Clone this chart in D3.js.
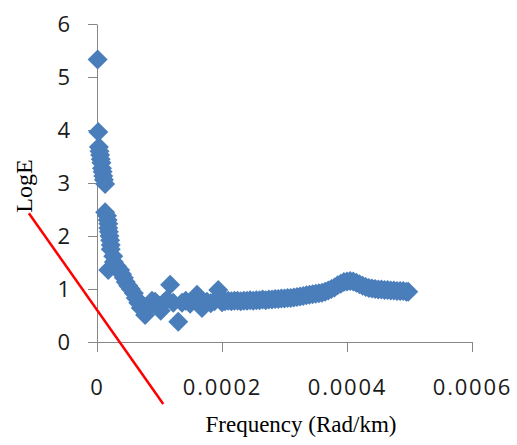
<!DOCTYPE html>
<html>
<head>
<meta charset="utf-8">
<script src="https://cdn.jsdelivr.net/npm/d3@7"></script>
<style>
    body { margin: 0; background: #fff; }
    #chart { width: 517px; height: 445px; }
</style>
</head>
<body>
<div id="chart"></div>
<script>
// Frequency in units of 1e-6 Rad/km
const freq = [
    1, 2, 3, 4, 5, 6, 7, 8, 9, 10, 11, 13,
    13, 16, 17, 18, 18, 19, 20, 21, 22, 22,
    26, 18, 27, 32, 37, 40, 43, 46, 50, 54, 59, 62, 66, 70,
    77, 83, 88, 93, 98, 102, 107, 112, 117, 122, 130, 136, 142, 149, 160, 165, 168, 170, 176, 182, 188, 194, 200,
    205, 210, 215, 220, 225, 230, 235, 240, 245, 250, 255, 260, 265, 270, 275, 280, 285, 290, 295, 300,
    305, 310, 315, 320, 325, 330, 335, 340, 345, 350, 355, 360, 365, 370, 375, 380, 385, 390, 395, 400,
    405, 410, 415, 420, 425, 430, 435, 440, 445, 450, 455, 460, 465, 470, 475, 480, 485, 490, 495, 498
];
const logE = [
    5.33, 3.96, 3.68, 3.60, 3.53, 3.45, 3.38, 3.28, 3.21, 3.13, 3.06, 2.98,
    2.45, 2.38, 2.30, 2.23, 2.15, 2.08, 2.00, 1.92, 1.83, 1.75,
    1.62, 1.36, 1.51, 1.43, 1.36, 1.28, 1.21, 1.13, 1.06, 1.00, 0.92, 0.83, 0.74, 0.64,
    0.51, 0.66, 0.78, 0.76, 0.70, 0.59, 0.74, 0.80, 1.08, 0.74, 0.38, 0.74, 0.78, 0.72, 0.89, 0.72, 0.64, 0.74, 0.76, 0.73, 0.77, 0.98, 0.75,
    0.77, 0.78, 0.77, 0.78, 0.78, 0.77, 0.78, 0.78, 0.79, 0.78, 0.79, 0.79, 0.80, 0.79, 0.80, 0.80, 0.81, 0.81, 0.82, 0.82,
    0.83, 0.83, 0.84, 0.85, 0.86, 0.87, 0.88, 0.89, 0.90, 0.91, 0.92, 0.93, 0.95, 0.97, 1.00, 1.03, 1.07, 1.10, 1.13, 1.14,
    1.15, 1.14, 1.12, 1.09, 1.06, 1.04, 1.02, 1.01, 1.00, 0.99, 0.99, 0.98, 0.98, 0.97, 0.97, 0.96, 0.96, 0.96, 0.95, 0.95
];

// red annotation line (same units: freq x1e-6, logE)
const redLineFreq = [-109, 106];
const redLineLogE = [2.43, -1.17];

const xTicks = [0, 0.0002, 0.0004, 0.0006];
const yTicks = [0, 1, 2, 3, 4, 5, 6];

const data = freq.map((f, i) => ({ f: f * 1e-6, v: logE[i] }));

function drawChart() {
    const svg = d3.select("#chart")
        .append("svg")
        .attr("width", 517)
        .attr("height", 445);

    const x = d3.scaleLinear().domain([0, 0.0006]).range([97, 472]);
    const y = d3.scaleLinear().domain([0, 6]).range([342, 24]);

    const axisColor = "#868686";
    const tickFont = "'Open Sans', sans-serif";

    // Y axis
    const yAxis = svg.append("g")
        .attr("transform", `translate(${x(0)},0)`)
        .call(d3.axisLeft(y).tickValues(yTicks).tickSize(9).tickSizeOuter(0).tickPadding(18)
            .tickFormat(d3.format("d")));
    yAxis.select(".domain").attr("stroke", axisColor);
    yAxis.selectAll(".tick line").attr("stroke", axisColor);
    yAxis.selectAll("text")
        .style("font-family", tickFont)
        .style("font-size", "22px")
        .attr("fill", "#1a1a1a");

    // X axis
    const xAxis = svg.append("g")
        .attr("transform", `translate(0,${y(0)})`)
        .call(d3.axisBottom(x).tickValues(xTicks).tickSize(10).tickSizeOuter(0).tickPadding(27)
            .tickFormat(d => d === 0 ? "0" : d3.format(".4f")(d)));
    xAxis.select(".domain").attr("stroke", axisColor);
    xAxis.selectAll(".tick line").attr("stroke", axisColor);
    xAxis.selectAll("text")
        .style("font-family", tickFont)
        .style("font-size", "22px")
        .style("letter-spacing", "1.8px")
        .attr("fill", "#1a1a1a");

    // Diamond markers
    const r = 10;
    svg.append("g")
        .selectAll("path")
        .data(data)
        .join("path")
        .attr("transform", d => `translate(${x(d.f)},${y(d.v)})`)
        .attr("d", `M0,${-r}L${r},0L0,${r}L${-r},0Z`)
        .attr("fill", "#4a7ebb");

    // Axis titles
    svg.append("text")
        .attr("x", 301)
        .attr("y", 432)
        .attr("text-anchor", "middle")
        .style("font-family", "'Liberation Serif', 'Times New Roman', serif")
        .style("font-size", "23px")
        .text("Frequency (Rad/km)");

    svg.append("text")
        .attr("transform", "translate(32,186) rotate(-90)")
        .attr("text-anchor", "middle")
        .style("font-family", "'Liberation Serif', 'Times New Roman', serif")
        .style("font-size", "24px")
        .text("LogE");

    // Red line
    svg.append("line")
        .attr("x1", x(redLineFreq[0] * 1e-6))
        .attr("y1", y(redLineLogE[0]))
        .attr("x2", x(redLineFreq[1] * 1e-6))
        .attr("y2", y(redLineLogE[1]))
        .attr("stroke", "#ff0000")
        .attr("stroke-width", 2.5);
}

drawChart();
</script>
</body>
</html>
